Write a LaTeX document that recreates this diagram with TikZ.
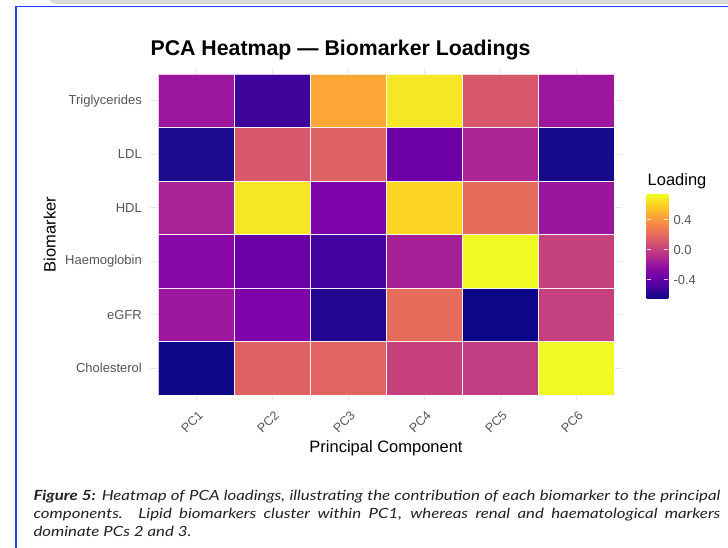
\documentclass[tikz,border=0pt]{standalone}
\usepackage{fontspec}
\setmainfont{Liberation Sans}
\newfontfamily\capfont[FakeStretch=1.2]{Lato}
\definecolor{axisgray}{HTML}{555555}
\definecolor{gridgray}{HTML}{E6E6E6}
\definecolor{frameblue}{HTML}{1E40FF}
\definecolor{topgray}{HTML}{DADADA}
\definecolor{captext}{HTML}{222222}
% plasma palette
\definecolor{p0}{HTML}{0D0887}
\definecolor{p1}{HTML}{41049D}
\definecolor{p2}{HTML}{6A00A8}
\definecolor{p3}{HTML}{8F0DA4}
\definecolor{p4}{HTML}{B12A90}
\definecolor{p5}{HTML}{CC4778}
\definecolor{p6}{HTML}{E16462}
\definecolor{p7}{HTML}{F2844B}
\definecolor{p8}{HTML}{FCA636}
\definecolor{p9}{HTML}{FCCE25}
\definecolor{p10}{HTML}{F0F921}
\pgfdeclareverticalshading{plasmabar}{100bp}{color(0bp)=(p0); color(25bp)=(p0); color(30bp)=(p1); color(35bp)=(p2); color(40bp)=(p3); color(45bp)=(p4); color(50bp)=(p5); color(55bp)=(p6); color(60bp)=(p7); color(65bp)=(p8); color(70bp)=(p9); color(75bp)=(p10); color(100bp)=(p10)}
% cell colours (row 1 = Triglycerides)
\definecolor{cell11}{HTML}{9C179E}\definecolor{cell12}{HTML}{3E049C}\definecolor{cell13}{HTML}{FCA636}
\definecolor{cell14}{HTML}{F5E626}\definecolor{cell15}{HTML}{D8576B}\definecolor{cell16}{HTML}{9C179E}
\definecolor{cell21}{HTML}{1C0A8C}\definecolor{cell22}{HTML}{D8576B}\definecolor{cell23}{HTML}{E06363}
\definecolor{cell24}{HTML}{6E00A8}\definecolor{cell25}{HTML}{AC2694}\definecolor{cell26}{HTML}{16098A}
\definecolor{cell31}{HTML}{A72296}\definecolor{cell32}{HTML}{F5E626}\definecolor{cell33}{HTML}{7E03A8}
\definecolor{cell34}{HTML}{FBD424}\definecolor{cell35}{HTML}{E66C5C}\definecolor{cell36}{HTML}{9A169F}
\definecolor{cell41}{HTML}{8808A6}\definecolor{cell42}{HTML}{6A00A8}\definecolor{cell43}{HTML}{43039E}
\definecolor{cell44}{HTML}{A62098}\definecolor{cell45}{HTML}{F0F921}\definecolor{cell46}{HTML}{C6427D}
\definecolor{cell51}{HTML}{9C179E}\definecolor{cell52}{HTML}{7E03A8}\definecolor{cell53}{HTML}{22068F}
\definecolor{cell54}{HTML}{E66C5C}\definecolor{cell55}{HTML}{0D0887}\definecolor{cell56}{HTML}{C5407E}
\definecolor{cell61}{HTML}{0D0887}\definecolor{cell62}{HTML}{E06363}\definecolor{cell63}{HTML}{E26561}
\definecolor{cell64}{HTML}{C6417D}\definecolor{cell65}{HTML}{C23C81}\definecolor{cell66}{HTML}{F0F921}
\tikzset{
  ticklab/.style={font=\fontsize{13}{15}\selectfont, text=axisgray, inner sep=0pt},
  xticklab/.style={font=\fontsize{12.5}{14}\selectfont, text=axisgray, inner sep=0pt},
  axtitle/.style={font=\fontsize{16.5}{19}\selectfont, text=black, inner sep=0pt},
  gridline/.style={draw=gridgray, line width=1pt},
  tileedge/.style={draw=white, draw opacity=0.75, line width=0.8pt},
  legtick/.style={draw=white, draw opacity=0.8, line width=0.8pt},
  capline/.style={font=\capfont\itshape\fontsize{14}{18}\selectfont, text=captext, inner sep=0pt, anchor=base west}
}
\begin{document}
\begin{tikzpicture}[x=1pt,y=-1pt]
\useasboundingbox (0,0) rectangle (728,548);
\clip (0,0) rectangle (728,548);
\fill[white] (0,0) rectangle (728,548);
% top grey card edge and blue frame
\fill[topgray, rounded corners=8pt] (48,-30) rectangle (760,3.8);
\draw[frameblue, line width=1.8pt] (15.8,560) -- (15.8,6.5) -- (740,6.5);
% grid lines
\foreach \c in {0,...,5} {
  \draw[gridline] ({196+76*\c},68.6) -- ({196+76*\c},400.4);
}
\foreach \r in {0,...,5} {
  \draw[gridline] (150.4,{100.75+53.5*\r}) -- (621.6,{100.75+53.5*\r});
}
% tiles
\foreach \r in {1,...,6} {
  \foreach \c in {1,...,6} {
    \fill[cell\r\c] ({158+76*(\c-1)},{74+53.5*(\r-1)}) rectangle ++(76,53.5);
  }
}
\foreach \r in {1,...,6} {
  \foreach \c in {1,...,6} {
    \draw[tileedge] ({158+76*(\c-1)},{74+53.5*(\r-1)}) rectangle ++(76,53.5);
  }
}
% title
\node[anchor=base west, inner sep=0pt, font=\bfseries\fontsize{21.3}{24}\selectfont] (title) at (150.4,56) {PCA Heatmap — Biomarker Loadings};
% y tick labels
\node[ticklab, anchor=east] (ytri) at (142,100.75) {Triglycerides};
\node[ticklab, anchor=east] (yldl) at (142,154.25) {LDL};
\node[ticklab, anchor=east] (yhdl) at (142,207.75) {HDL};
\node[ticklab, anchor=east] (yhae) at (142,261.25) {Haemoglobin};
\node[ticklab, anchor=east] (yegf) at (142,314.75) {eGFR};
\node[ticklab, anchor=east] (ycho) at (142,368.25) {Cholesterol};
% x tick labels
\foreach \c [count=\i] in {PC1,PC2,PC3,PC4,PC5,PC6} {
  \node[xticklab, rotate=45, anchor=north east] (x\c) at ({196+76*(\i-1)+1.5},410) {\c};
}
% axis titles
\node[axtitle, anchor=base] (xtitle) at (386,452.5) {Principal Component};
\node[axtitle, rotate=90, anchor=base] (ytitle) at (55.5,234.5) {Biomarker};
% legend
\node[axtitle, anchor=base west] (legtitle) at (647.5,186) {Loading};
\shade[shading=plasmabar] (646.7,195) rectangle (668.3,298.3);
\foreach \y in {219.5,249.3,279.1} {
  \draw[legtick] (646.7,\y) -- (651,\y);
  \draw[legtick] (664,\y) -- (668.3,\y);
}
\node[ticklab, anchor=west] (lp) at (673.3,220) {0.4};
\node[ticklab, anchor=west] (lz) at (673.3,249.8) {0.0};
\node[ticklab, anchor=west] (lm) at (673.3,279.6) {-0.4};
% caption
\node[capline] (cap1) at (33.3,500) {\makebox[686.7pt][s]{\bfseries Figure 5:\mdseries{} Heatmap of PCA loadings, illustrating the contribution of each biomarker to the principal}};
\node[capline] (cap2) at (33.3,518.3) {\makebox[686.7pt][s]{components. Lipid biomarkers cluster within PC1, whereas renal and haematological markers}};
\node[capline] (cap3) at (33.3,536.7) {dominate PCs 2 and 3.};
\end{tikzpicture}
\end{document}
